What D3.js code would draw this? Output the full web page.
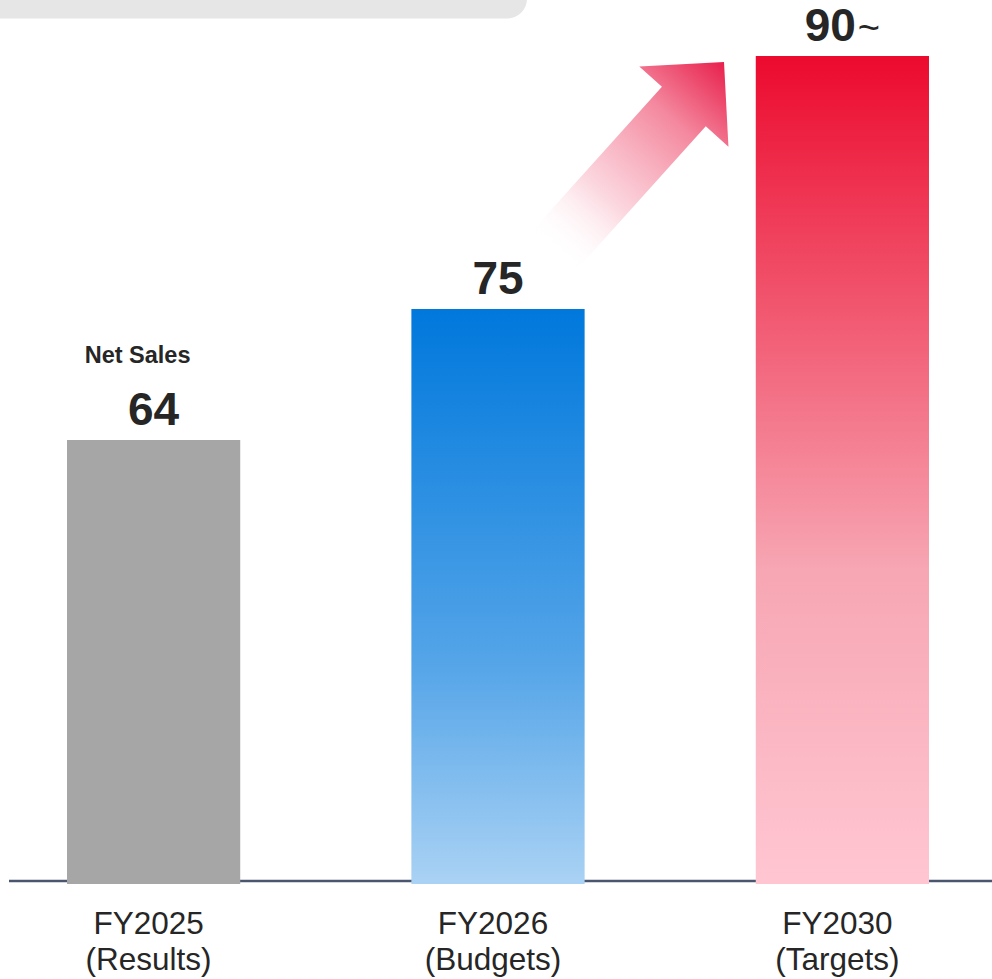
<!DOCTYPE html>
<html>
<head>
<meta charset="utf-8">
<script src="https://cdn.jsdelivr.net/npm/d3@7"></script>
<style>
  html, body { margin: 0; padding: 0; background: #ffffff; }
  svg { display: block; font-family: "Liberation Sans", Arial, sans-serif; }
</style>
</head>
<body>
<svg id="chart" width="992" height="979"></svg>
<script>
// ---- data ----
const categories = ["FY2025", "FY2026", "FY2030"];
const subLabels = ["(Results)", "(Budgets)", "(Targets)"];
const values = [64, 75, 90];
const valueSuffix = ["", "", "~"];
const seriesName = "Net Sales";

// ---- setup ----
const W = 992, H = 979;
const svg = d3.select("#chart");
const defs = svg.append("defs");

// top grey panel (partial, cropped)
svg.append("rect")
  .attr("x", -30).attr("y", -40)
  .attr("width", 557).attr("height", 58.5)
  .attr("rx", 20).attr("ry", 20)
  .attr("fill", "#e6e6e6");

const baseY = 884;
const x = d3.scaleBand()
  .domain(categories)
  .range([67, 929])
  .paddingInner(0.497)
  .paddingOuter(0);

// chart is not drawn to linear scale in the source; piecewise scale reproduces it
const y = d3.scaleLinear()
  .domain([0, 64, 75, 90])
  .range([baseY, 440, 309, 56]);

// gradients
const gradDefs = [
  { id: "g0", top: "#a6a6a6", mid: "#a6a6a6", bottom: "#a6a6a6" },
  { id: "g1", top: "#0078dc", mid: "#55a5e8", bottom: "#aad2f4" },
  { id: "g2", top: "#ec0a2e", mid: "#f7a6b3", bottom: "#ffc6d2" }
];
gradDefs.forEach(g => {
  const lg = defs.append("linearGradient")
    .attr("id", g.id).attr("x1", 0).attr("y1", 0).attr("x2", 0).attr("y2", 1);
  lg.append("stop").attr("offset", "0%").attr("stop-color", g.top);
  lg.append("stop").attr("offset", "62%").attr("stop-color", g.mid);
  lg.append("stop").attr("offset", "100%").attr("stop-color", g.bottom);
});

// baseline
svg.append("line")
  .attr("x1", 9).attr("x2", W)
  .attr("y1", 881).attr("y2", 881)
  .attr("stroke", "#4a5670").attr("stroke-width", 2.4);

// bars
svg.selectAll("rect.bar")
  .data(values)
  .join("rect")
  .attr("class", "bar")
  .attr("x", (d, i) => x(categories[i]))
  .attr("width", x.bandwidth())
  .attr("y", d => y(d))
  .attr("height", d => baseY - y(d))
  .attr("fill", (d, i) => `url(#${gradDefs[i].id})`);

// arrow (decorative) between FY2026 and FY2030
(function () {
  const tip = [724, 62];
  const ang = Math.atan2(-0.743, 0.669);
  const L = 256, headL = 60, shaftHW = 29.5, headHW = 60;
  const tail = [tip[0] - L * Math.cos(ang), tip[1] - L * Math.sin(ang)];
  const ag = defs.append("linearGradient")
    .attr("id", "arrowGrad")
    .attr("gradientUnits", "userSpaceOnUse")
    .attr("x1", tail[0]).attr("y1", tail[1])
    .attr("x2", tip[0]).attr("y2", tip[1]);
  ag.append("stop").attr("offset", "0%").attr("stop-color", "#ffffff").attr("stop-opacity", 0);
  ag.append("stop").attr("offset", "30%").attr("stop-color", "#fbd3dc").attr("stop-opacity", 0.9);
  ag.append("stop").attr("offset", "70%").attr("stop-color", "#f4889e");
  ag.append("stop").attr("offset", "100%").attr("stop-color", "#e8204c");
  const local = [
    [0, -shaftHW], [L - headL, -shaftHW], [L - headL, -headHW], [L, 0],
    [L - headL, headHW], [L - headL, shaftHW], [0, shaftHW]
  ];
  const c = Math.cos(ang), s = Math.sin(ang);
  const pts = local.map(([u, v]) => [tail[0] + u * c - v * s, tail[1] + u * s + v * c]);
  svg.append("path")
    .attr("d", d3.line()(pts) + "Z")
    .attr("fill", "url(#arrowGrad)");
})();

// value labels
const vl = svg.selectAll("text.val")
  .data(values)
  .join("text")
  .attr("class", "val")
  .attr("x", (d, i) => x(categories[i]) + x.bandwidth() / 2)
  .attr("y", d => y(d) - 15)
  .attr("text-anchor", "middle")
  .attr("fill", "#262626")
  .attr("font-weight", "bold")
  .attr("font-size", 46);
vl.append("tspan").text(d => d);
vl.append("tspan")
  .attr("font-size", 38)
  .attr("font-weight", "normal")
  .attr("dx", 2)
  .text((d, i) => valueSuffix[i]);

// series name
svg.append("text")
  .attr("x", x(categories[0]) + x.bandwidth() / 2 - 16)
  .attr("y", 363)
  .attr("text-anchor", "middle")
  .attr("fill", "#262626")
  .attr("font-weight", "bold")
  .attr("font-size", 23.5)
  .text(seriesName);

// x axis labels
const xl = svg.selectAll("text.xl")
  .data(categories)
  .join("text")
  .attr("class", "xl")
  .attr("text-anchor", "middle")
  .attr("fill", "#262626")
  .attr("font-size", 31.5);
xl.append("tspan")
  .attr("x", d => x(d) + x.bandwidth() / 2 - 5)
  .attr("y", 934)
  .text(d => d);
xl.append("tspan")
  .attr("x", d => x(d) + x.bandwidth() / 2 - 5)
  .attr("y", 970)
  .text((d, i) => subLabels[i]);
</script>
</body>
</html>
